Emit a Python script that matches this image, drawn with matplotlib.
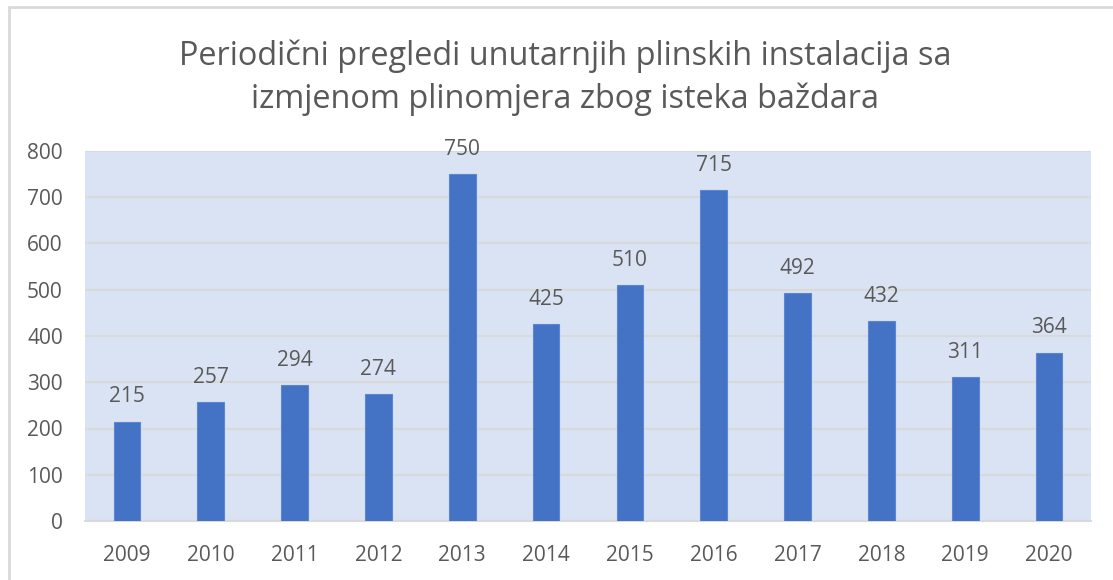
import matplotlib.pyplot as plt
from matplotlib.patches import Rectangle

# data
years = ['2009', '2010', '2011', '2012', '2013', '2014',
         '2015', '2016', '2017', '2018', '2019', '2020']
counts = [215, 257, 294, 274, 750, 425, 510, 715, 492, 432, 311, 364]

title = 'Periodični pregledi unutarnjih plinskih instalacija sa\nizmjenom plinomjera zbog isteka baždara'

plt.rcParams['font.family'] = ['Open Sans', 'DejaVu Sans']
text_col = '#595959'

fig = plt.figure(figsize=(11.13, 5.80), dpi=100)
ax = fig.add_axes([85/1113, 1 - 521/580, (1091-85)/1113, (521-151)/580])

# outer chart border
fig.patches.append(Rectangle((9/1113, -0.1), 1.2, 1 - 7/580 + 0.1,
                             transform=fig.transFigure, fill=False,
                             edgecolor='#D9D9D9', linewidth=2))

x = range(len(years))
ax.bar(x, counts, width=0.32, color='#4472C4', edgecolor='#5B86D3', linewidth=0.8, zorder=3)

for xi, v in zip(x, counts):
    ax.annotate(str(v), (xi, v), xytext=(0, 18), textcoords='offset points',
                ha='center', va='center', fontsize=15, color=text_col)

ax.set_facecolor('#DAE3F3')
ax.set_xlim(-0.5, len(years) - 0.5)
ax.set_ylim(0, 800)
ax.set_yticks(range(0, 801, 100))
ax.set_xticks(list(x))
ax.set_xticklabels(years)
ax.grid(axis='y', color='#D9D9D9', linewidth=1.5, zorder=0)
ax.tick_params(length=0, labelsize=15, labelcolor=text_col)
ax.tick_params(axis='y', pad=16)
ax.tick_params(axis='x', pad=17)
for s in ['top', 'left', 'right']:
    ax.spines[s].set_visible(False)
ax.spines['bottom'].set_color('#D9D9D9')
ax.spines['bottom'].set_linewidth(1.5)

fig.text(565/1113, 1 - 78/580, title, ha='center', va='center',
         fontsize=23.4, color=text_col, linespacing=1.36)

plt.savefig('out.png', dpi=100)
